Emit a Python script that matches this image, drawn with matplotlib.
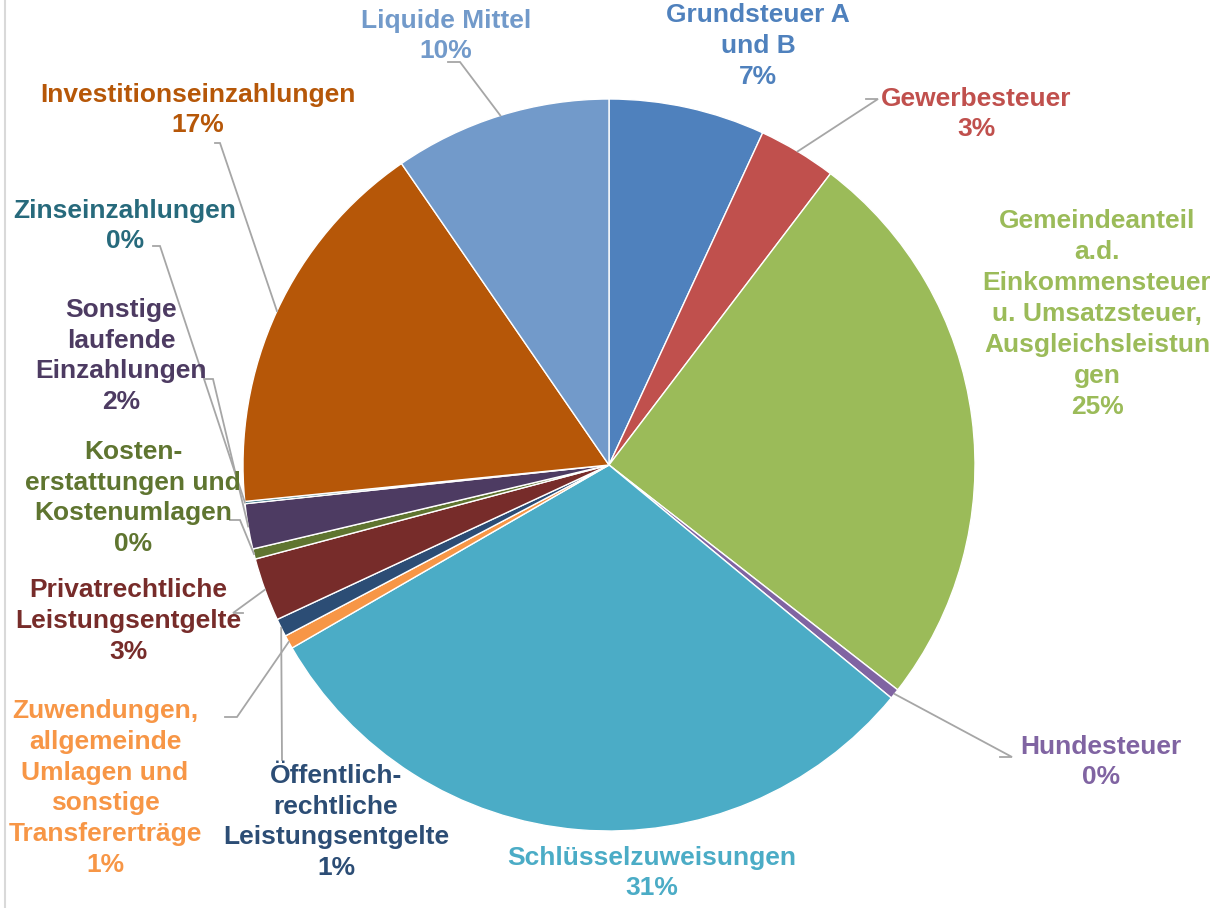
import numpy as np
import matplotlib
matplotlib.use("Agg")
from matplotlib import pyplot as plt
from matplotlib.lines import Line2D

# Einzahlungen - Anteile (im Uhrzeigersinn ab 12 Uhr)
kategorien = [
    "Grundsteuer A\nund B",
    "Gewerbesteuer",
    "Gemeindeanteil\na.d.\nEinkommensteuer\nu. Umsatzsteuer,\nAusgleichsleistun\ngen",
    "Hundesteuer",
    "Schlüsselzuweisungen",
    "Zuwendungen,\nallgemeinde\nUmlagen und\nsonstige\nTransfererträge",
    "Öffentlich-\nrechtliche\nLeistungsentgelte",
    "Privatrechtliche\nLeistungsentgelte",
    "Kosten-\nerstattungen und\nKostenumlagen",
    "Sonstige\nlaufende\nEinzahlungen",
    "Zinseinzahlungen",
    "Investitionseinzahlungen",
    "Liquide Mittel",
]
anteile = [6.9, 3.45, 25.2, 0.45, 30.7, 0.6, 0.8, 2.8, 0.45, 2.0, 0.1, 17.0, 9.6]
prozent_text = ["7%", "3%", "25%", "0%", "31%", "1%", "1%", "3%", "0%", "2%",
                "0%", "17%", "10%"]
farben = ["#4F81BD", "#C0504D", "#9BBB59", "#8064A2", "#4BACC6", "#F79646",
          "#2C4D75", "#772C2A", "#5F7530", "#4D3B62", "#276A7C", "#B65708",
          "#729ACA"]

# Label-Positionen (Pixel) und Führungslinien
label_pos = [(758, 46), (976, 114), (1097, 314), (1101, 762), (652, 873),
             (105, 788), (336, 822), (128, 621), (133, 498), (121, 356),
             (125, 226), (198, 110), (446, 36)]
linie_start = [None, (866, 99), None, (1000, 757), None,
               (225, 717), (282, 760), (243, 613), (230, 520), (205, 379),
               (153, 246), (215, 143), (448, 62)]
linie_knick = [None, (878, 99), None, (1012, 757), None,
               (237, 717), (282, 760), (233, 613), (240, 520), (213, 379),
               (160, 246), (220, 143), (460, 62)]

plt.rcParams['font.family'] = ['Liberation Sans', 'DejaVu Sans']

fig = plt.figure(figsize=(12.1, 9.08), dpi=100)
ax = fig.add_axes([0, 0, 1, 1])
ax.set_aspect('equal')
ax.axis('off')

cx, cy, r = 609, 465, 366
wedges, _ = ax.pie(anteile, colors=farben, center=(cx, cy), radius=r,
                   startangle=270, counterclock=True,
                   wedgeprops=dict(edgecolor='white', linewidth=1.0))
ax.set_xlim(0, 1210)
ax.set_ylim(908, 0)

for i, w in enumerate(wedges):
    txt = kategorien[i] + "\n" + prozent_text[i]
    x, y = label_pos[i]
    ax.text(x, y, txt, ha='center', va='center', fontsize=19, fontweight='bold',
            color=farben[i], linespacing=1.36)
    if linie_start[i] is not None:
        theta = np.deg2rad((w.theta1 + w.theta2) / 2)
        ex = cx + r * np.cos(theta)
        ey = cy + r * np.sin(theta)
        sx, sy = linie_start[i]
        kx, ky = linie_knick[i]
        ax.plot([sx, kx, ex], [sy, ky, ey], color='#A6A6A6', lw=1.3,
                solid_joinstyle='miter')

# linker Rahmen
fig.add_artist(Line2D([5 / 1210, 5 / 1210], [0, 1], color='#D9D9D9', lw=1.5))

fig.savefig("out.png", dpi=100)
